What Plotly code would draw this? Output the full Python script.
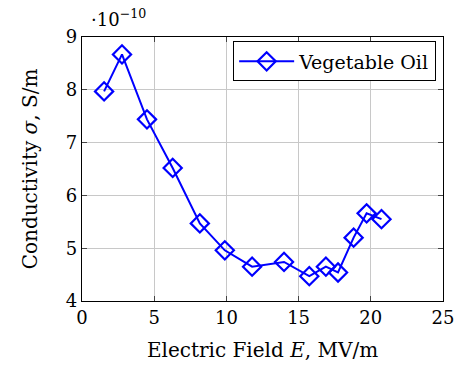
import plotly.graph_objects as go

field = [1.53, 2.77, 4.5, 6.28, 8.16, 9.89, 11.78, 13.99, 15.74, 16.89, 17.73, 18.81, 19.71, 20.74]
cond = [7.97, 8.67, 7.44, 6.52, 5.47, 4.96, 4.65, 4.74, 4.47, 4.65, 4.54, 5.20, 5.66, 5.55]
series_name = "Vegetable Oil"
xticks = [0, 5, 10, 15, 20, 25]
yticks = [4, 5, 6, 7, 8, 9]

FONT = "DejaVu Serif"
FS = 18
TFS = 20

fig = go.Figure()
fig.add_trace(go.Scatter(
    x=field, y=cond, mode="lines+markers", name=series_name,
    line=dict(color="#0000ff", width=2),
    marker=dict(symbol="diamond-open", size=14, color="#0000ff", line=dict(width=2.2, color="#0000ff")),
))

axis_common = dict(
    showgrid=True, gridcolor="#c8c8c8", gridwidth=1,
    showline=True, linecolor="black", linewidth=1.2, mirror="ticks",
    ticks="inside", ticklen=5, tickcolor="#444", tickwidth=1,
    zeroline=False, tickfont=dict(family=FONT, size=FS, color="black"),
)

fig.update_layout(
    width=466, height=370,
    margin=dict(l=82, r=14, t=37, b=69),
    paper_bgcolor="white", plot_bgcolor="white",
    font=dict(family=FONT, size=FS, color="black"),
    xaxis=dict(range=[0, 25], tickvals=xticks, **axis_common,
               title=dict(text="Electric Field <i>E</i>, MV/m", font=dict(family=FONT, size=TFS), standoff=16)),
    yaxis=dict(range=[4, 9], tickvals=yticks, **axis_common,
               title=dict(text="Conductivity <i>σ</i>, S/m", font=dict(family=FONT, size=TFS), standoff=22)),
    legend=dict(x=0.981, y=0.983, xanchor="right", yanchor="top", orientation="h",
                bordercolor="black", borderwidth=1, bgcolor="white",
                font=dict(family=FONT, size=19), entrywidth=131, itemwidth=55),
    showlegend=True,
    annotations=[dict(text="·10<sup>−10</sup>", xref="paper", yref="paper", x=0.02, y=1.02,
                      xanchor="left", yanchor="bottom", showarrow=False,
                      font=dict(family=FONT, size=FS))],
)

fig.write_html("out.html")
